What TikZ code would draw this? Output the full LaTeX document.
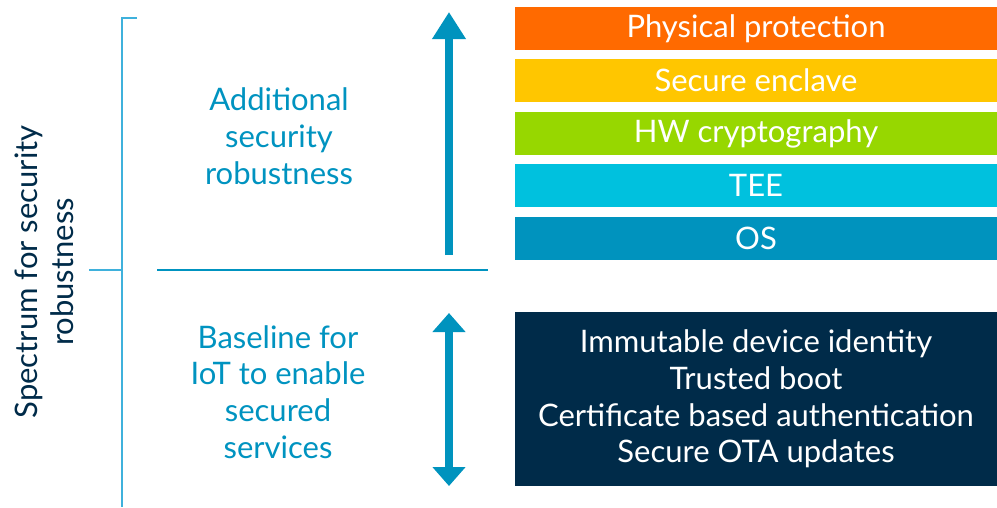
\documentclass[tikz,border=0pt]{standalone}
\usepackage{fontspec}
\setmainfont{Lato}
\usetikzlibrary{arrows.meta}
\definecolor{cOrange}{HTML}{FF6A00}
\definecolor{cYellow}{HTML}{FFC600}
\definecolor{cGreen}{HTML}{97D700}
\definecolor{cTee}{HTML}{00C1DE}
\definecolor{cOs}{HTML}{0093BE}
\definecolor{cDark}{HTML}{002B49}
\definecolor{cBlue}{HTML}{0093C0}
\definecolor{cBracket}{HTML}{3FB1DC}
\tikzset{
  layer/.style={rectangle, inner sep=0pt, minimum width=482pt, minimum height=43pt, text=white,
    font=\fontsize{31}{36}\selectfont},
  bluetext/.style={align=center, text=cBlue, font=\fontsize{31}{36.8}\selectfont},
  bigarrow/.style={line width=8pt, draw=cOs},
}
\begin{document}
\begin{tikzpicture}[x=1pt,y=-1pt]
\useasboundingbox (0,0) rectangle (997,507);
% bracket
\coordinate (bt) at (122,18);
\coordinate (btr) at (137,18);
\coordinate (bb) at (122,507);
\coordinate (bm) at (122,270);
\coordinate (bl) at (89,270);
\draw[cBracket, line width=1.5pt] (btr) -- (bt) -- (bb);
\draw[cBracket, line width=1.5pt] (bl) -- (bm);
% divider
\coordinate (d1) at (157,270);
\coordinate (d2) at (488,270);
\draw[cBlue, line width=1.5pt] (d1) -- (d2);
% left label
\node[rotate=90, align=center, text=cDark, font=\fontsize{31}{36}\selectfont] (spec) at (44,272) {Spectrum for security\\robustness};
% blue texts
\node[bluetext] (add) at (279,136) {Additional\\security\\robustness};
\node[bluetext] (base) at (278,392) {Baseline for\\IoT to enable\\secured\\services};
% arrows
\coordinate (u1) at (449,255);
\coordinate (u2) at (449,12);
\draw[bigarrow, -{Triangle[width=32pt,length=27pt]}, cOs] (u1) -- (u2);
\coordinate (v1) at (449,313);
\coordinate (v2) at (449,486);
\draw[bigarrow, {Triangle[width=32pt,length=19pt]}-{Triangle[width=32pt,length=19pt]}, cOs] (v1) -- (v2);
% layers
\node[layer, fill=cOrange] (phys) at (756,28.5) {Physical protection};
\node[layer, fill=cYellow] (encl) at (756,80.5) {Secure enclave};
\node[layer, fill=cGreen] (hw) at (756,133.5) {HW cryptography};
\node[layer, fill=cTee] (tee) at (756,185.5) {TEE};
\node[layer, fill=cOs] (os) at (756,238.5) {OS};
\node[rectangle, fill=cDark, inner sep=0pt, minimum width=482pt, minimum height=174pt, text=white,
  align=center, font=\fontsize{31}{36.8}\selectfont] (base box) at (756,399)
  {Immutable device identity\\Trusted boot\\Certificate based authentication\\Secure OTA updates};
\end{tikzpicture}
\end{document}
